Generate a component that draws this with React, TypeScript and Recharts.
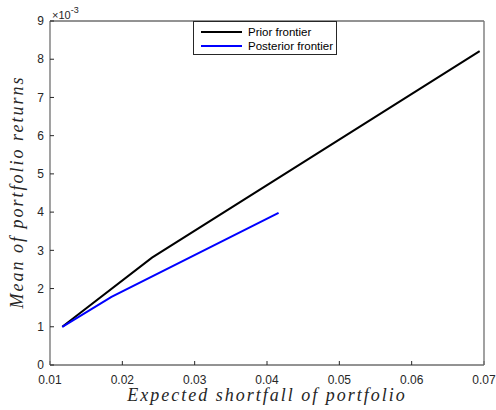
import React from 'react';
import { LineChart, Line, XAxis, YAxis } from 'recharts';

// Frontier points (x: expected shortfall, y: mean return ×1e-3)
const priorX = [0.0117, 0.0241, 0.0694];
const priorY = [1.0, 2.81, 8.21];
const posteriorX = [0.0117, 0.0185, 0.0416];
const posteriorY = [1.0, 1.78, 3.98];

const seriesNames = ['Prior frontier', 'Posterior frontier'];
const seriesColors = ['#000000', '#0000ff'];

const xTicks = [0.01, 0.02, 0.03, 0.04, 0.05, 0.06, 0.07];
const yTicks = [0, 1, 2, 3, 4, 5, 6, 7, 8, 9];

const priorData = priorX.map((x, i) => ({ x, y: priorY[i] }));
const posteriorData = posteriorX.map((x, i) => ({ x, y: posteriorY[i] }));

const INK = '#262626';
const SIDE = '#7a7a7a';
const tickFont = { fontSize: 12, fill: INK, fontFamily: 'Liberation Sans, Arial, sans-serif' } as const;
const labelFont = 'Liberation Serif, Times New Roman, serif';

const W = 496;
const H = 410;

// legend drawn as an overlay so recharts doesn't reserve room for it
const LegendBox = () => (
  <div
    style={{
      position: 'absolute',
      left: 193,
      top: 21,
      width: 142,
      height: 32,
      border: `1px solid ${INK}`,
      background: '#fff',
      fontFamily: 'Liberation Sans, Arial, sans-serif',
      fontSize: 11.5,
      color: '#000',
    }}
  >
    {seriesNames.map((name, i) => (
      <div key={name} style={{ display: 'flex', alignItems: 'center', height: 14, marginTop: i === 0 ? 3 : 0 }}>
        <svg width={54} height={14} style={{ display: 'block' }}>
          <line x1={7} x2={48} y1={7} y2={7} stroke={seriesColors[i]} strokeWidth={2} />
        </svg>
        <span style={{ lineHeight: '14px', whiteSpace: 'nowrap' }}>{name}</span>
      </div>
    ))}
  </div>
);

export default function App() {
  return (
    <div style={{ position: 'absolute', left: 0, top: 0, width: W, height: H, background: '#fff' }}>
      <LineChart
        width={W}
        height={H}
        margin={{ top: 20, right: 11, bottom: 15, left: 10 }}
      >
        <XAxis
          xAxisId="b"
          type="number"
          dataKey="x"
          domain={[0.01, 0.07]}
          ticks={xTicks}
          tickFormatter={(v: number) => v.toFixed(2)}
          allowDataOverflow
          height={30}
          tickSize={-4}
          tickMargin={14}
          tick={tickFont}
          axisLine={{ stroke: INK, strokeWidth: 1 }}
          tickLine={{ stroke: INK }}
        />
        <XAxis
          xAxisId="t"
          orientation="top"
          type="number"
          dataKey="x"
          domain={[0.01, 0.07]}
          ticks={xTicks}
          allowDataOverflow
          height={1}
          tickSize={-4}
          tick={false}
          axisLine={{ stroke: INK, strokeWidth: 1 }}
          tickLine={{ stroke: INK }}
        />
        <YAxis
          yAxisId="l"
          type="number"
          domain={[0, 9]}
          ticks={yTicks}
          allowDataOverflow
          width={40}
          tickSize={-4}
          tickMargin={10}
          tick={tickFont}
          axisLine={{ stroke: SIDE, strokeWidth: 1.4 }}
          tickLine={{ stroke: INK }}
        />
        <YAxis
          yAxisId="r"
          orientation="right"
          type="number"
          domain={[0, 9]}
          ticks={yTicks}
          allowDataOverflow
          width={1}
          tickSize={-4}
          tick={false}
          axisLine={{ stroke: SIDE, strokeWidth: 1.4 }}
          tickLine={{ stroke: INK }}
        />
        <Line
          xAxisId="b"
          yAxisId="l"
          data={priorData}
          dataKey="y"
          name={seriesNames[0]}
          stroke={seriesColors[0]}
          strokeWidth={2}
          dot={false}
          isAnimationActive={false}
        />
        <Line
          xAxisId="b"
          yAxisId="l"
          data={posteriorData}
          dataKey="y"
          name={seriesNames[1]}
          stroke={seriesColors[1]}
          strokeWidth={2}
          dot={false}
          isAnimationActive={false}
        />
      </LineChart>
      <LegendBox />
      <svg
        width={W}
        height={H}
        style={{ position: 'absolute', left: 0, top: 0, pointerEvents: 'none' }}
      >
        <text x={52} y={19} fontSize={11} fill={INK} fontFamily="Liberation Sans, Arial, sans-serif">
          ×10<tspan dy={-6} fontSize={9}>-3</tspan>
        </text>
        <text
          x={267}
          y={401}
          textAnchor="middle"
          fontSize={18}
          fontStyle="italic"
          letterSpacing={2}
          fill={INK}
          fontFamily={labelFont}
        >
          Expected shortfall of portfolio
        </text>
        <text
          transform="translate(23,192) rotate(-90)"
          textAnchor="middle"
          fontSize={18}
          fontStyle="italic"
          letterSpacing={2}
          fill={INK}
          fontFamily={labelFont}
        >
          Mean of portfolio returns
        </text>
      </svg>
    </div>
  );
}
